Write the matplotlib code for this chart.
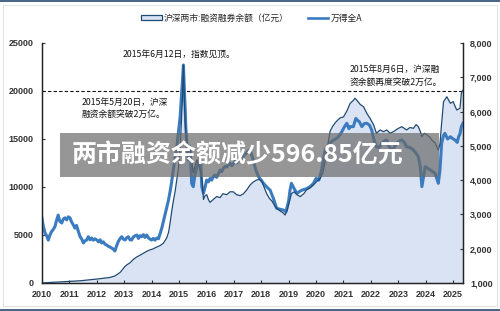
import matplotlib
matplotlib.use("Agg")
import matplotlib.pyplot as plt
from matplotlib.patches import Rectangle, Patch
from matplotlib.lines import Line2D
from matplotlib.ticker import FuncFormatter

plt.rcParams['font.family'] = ['Noto Sans CJK SC', 'DejaVu Sans']

# ---- data ----
margin_years = [2010.00, 2010.30, 2010.66, 2011.02, 2011.39, 2011.75, 2011.90, 2012.12, 2012.48, 2012.66,
                2012.85, 2013.02, 2013.10, 2013.21, 2013.33, 2013.45, 2013.58, 2013.70, 2013.82, 2013.94,
                2014.05, 2014.19, 2014.31, 2014.43, 2014.55, 2014.62, 2014.67, 2014.73, 2014.79, 2014.86,
                2014.92, 2014.98, 2015.04, 2015.08, 2015.12, 2015.16, 2015.19, 2015.22, 2015.26, 2015.30,
                2015.34, 2015.40, 2015.46, 2015.52, 2015.58, 2015.65, 2015.72, 2015.78, 2015.85, 2015.89,
                2015.95, 2016.01, 2016.07, 2016.13, 2016.25, 2016.37, 2016.50, 2016.60, 2016.74, 2016.86,
                2016.98, 2017.10, 2017.23, 2017.35, 2017.47, 2017.59, 2017.70, 2017.81, 2017.92, 2018.02,
                2018.10, 2018.20, 2018.30, 2018.40, 2018.50, 2018.56, 2018.69, 2018.80, 2018.87, 2018.95,
                2019.00, 2019.10, 2019.20, 2019.30, 2019.42, 2019.55, 2019.65, 2019.78, 2019.90, 2020.03,
                2020.15, 2020.25, 2020.30, 2020.38, 2020.45, 2020.51, 2020.60, 2020.70, 2020.80, 2020.88,
                2021.00, 2021.12, 2021.24, 2021.35, 2021.42, 2021.50, 2021.61, 2021.73, 2021.85, 2021.97,
                2022.10, 2022.20, 2022.34, 2022.46, 2022.58, 2022.70, 2022.82, 2023.00, 2023.13, 2023.30,
                2023.43, 2023.55, 2023.65, 2023.73, 2023.80, 2023.86, 2023.95, 2024.04, 2024.15, 2024.22,
                2024.34, 2024.46, 2024.52, 2024.58, 2024.65, 2024.77, 2024.90, 2025.00, 2025.13, 2025.25,
                2025.30, 2025.36]
margin_vals = [10, 60, 120, 170, 230, 330, 380, 450, 580, 730,
               1100, 1700, 1900, 2100, 2450, 2700, 2900, 3100, 3300, 3450,
               3550, 3750, 3900, 4150, 4700, 5300, 6200, 7400, 8500, 9600,
               10800, 12000, 14000, 16500, 19000, 22700, 19500, 17000, 15000, 14500,
               13800, 14200, 12800, 11500, 12200, 12800, 12300, 11600, 10500, 8700,
               9100, 9200, 8700, 8400, 8700, 9000, 8900, 9300, 9200, 9500,
               9500, 9200, 9100, 9300, 9700, 10200, 10500, 10700, 10800, 10600,
               10000, 9300, 8800, 8500, 8000, 7800, 7500, 7300, 7080, 7600,
               8200, 9300, 9500, 9200, 9000, 9300, 9700, 9900, 10200, 10600,
               10900, 11500, 12200, 13500, 14800, 15800, 16300, 16700, 17000, 17200,
               17300, 17900, 18700, 19000, 19240, 19000, 18600, 18370, 17680, 17150,
               16460, 15600, 15940, 15760, 15940, 15600, 15760, 16110, 16280, 15940,
               16200, 16110, 16500, 16280, 15800, 15240, 15600, 15420, 15200, 14900,
               14600, 13850, 14500, 16640, 18890, 19400, 18720, 18890, 18020, 18200,
               19760, 20100]

winda_years = [2010.00, 2010.05, 2010.11, 2010.17, 2010.23, 2010.29, 2010.35, 2010.41, 2010.47, 2010.53,
               2010.59, 2010.65, 2010.72, 2010.78, 2010.84, 2010.90, 2010.96, 2011.02, 2011.08, 2011.14,
               2011.20, 2011.26, 2011.32, 2011.39, 2011.45, 2011.51, 2011.57, 2011.63, 2011.69, 2011.75,
               2011.81, 2011.87, 2011.93, 2012.00, 2012.06, 2012.12, 2012.18, 2012.24, 2012.30, 2012.36,
               2012.42, 2012.48, 2012.54, 2012.60, 2012.66, 2012.72, 2012.78, 2012.85, 2012.91, 2012.97,
               2013.03, 2013.09, 2013.15, 2013.21, 2013.27, 2013.33, 2013.40, 2013.46, 2013.52, 2013.58,
               2013.64, 2013.70, 2013.76, 2013.82, 2013.88, 2013.94, 2014.00, 2014.06, 2014.12, 2014.19,
               2014.25, 2014.31, 2014.37, 2014.43, 2014.49, 2014.55, 2014.61, 2014.67, 2014.73, 2014.79,
               2014.85, 2014.92, 2014.98, 2015.04, 2015.10, 2015.16, 2015.19, 2015.22, 2015.25, 2015.28,
               2015.31, 2015.34, 2015.37, 2015.40, 2015.43, 2015.46, 2015.49, 2015.52, 2015.58, 2015.65,
               2015.71, 2015.77, 2015.80, 2015.83, 2015.89, 2015.95, 2016.01, 2016.07, 2016.13, 2016.19,
               2016.25, 2016.31, 2016.37, 2016.44, 2016.50, 2016.56, 2016.62, 2016.68, 2016.74, 2016.80,
               2016.86, 2016.92, 2016.98, 2017.04, 2017.10, 2017.17, 2017.23, 2017.29, 2017.35, 2017.41,
               2017.47, 2017.53, 2017.59, 2017.70, 2017.80, 2017.90, 2018.00, 2018.08, 2018.20, 2018.32,
               2018.45, 2018.56, 2018.69, 2018.80, 2018.90, 2019.00, 2019.05, 2019.10, 2019.20, 2019.30,
               2019.42, 2019.50, 2019.65, 2019.78, 2019.90, 2020.00, 2020.10, 2020.20, 2020.33, 2020.42,
               2020.50, 2020.60, 2020.75, 2020.85, 2020.94, 2021.03, 2021.12, 2021.20, 2021.24, 2021.36,
               2021.45, 2021.50, 2021.58, 2021.67, 2021.76, 2021.85, 2021.95, 2022.03, 2022.10, 2022.20,
               2022.30, 2022.40, 2022.50, 2022.58, 2022.65, 2022.76, 2022.85, 2022.94, 2023.05, 2023.13,
               2023.22, 2023.30, 2023.43, 2023.55, 2023.65, 2023.73, 2023.80, 2023.86, 2023.92, 2023.98,
               2024.07, 2024.16, 2024.25, 2024.34, 2024.40, 2024.46, 2024.52, 2024.58, 2024.65, 2024.70,
               2024.80, 2024.90, 2025.00, 2025.07, 2025.15, 2025.20, 2025.25, 2025.30, 2025.36]
winda_vals = [2890, 2650, 2460, 2380, 2250, 2400, 2500, 2560, 2640, 2820,
              2980, 2800, 2750, 2870, 2900, 2840, 2930, 2900, 2780, 2700,
              2600, 2680, 2520, 2350, 2280, 2167, 2230, 2254, 2350, 2260,
              2313, 2250, 2290, 2254, 2200, 2260, 2167, 2200, 2130, 2108,
              2070, 2050, 2021, 1990, 1933, 2080, 2205, 2300, 2350, 2280,
              2254, 2320, 2350, 2260, 2254, 2340, 2380, 2400, 2300, 2380,
              2350, 2410, 2330, 2400, 2320, 2280, 2254, 2300, 2250, 2313,
              2290, 2450, 2600, 2800, 3000, 3200, 3400, 3650, 3950, 4300,
              4600, 4975, 5400, 5850, 6630, 7359, 6700, 6143, 5500, 5171,
              4800, 4588, 5000, 4975, 4500, 3908, 3850, 3809, 4150, 4392,
              4550, 4684, 4400, 3809, 3617, 3800, 4004, 3950, 4050, 4000,
              4100, 4150, 4080, 4200, 4296, 4250, 4350, 4400, 4380, 4450,
              4492, 4420, 4480, 4550, 4500, 4560, 4588, 4650, 4700, 4750,
              4800, 4850, 4880, 4600, 4300, 4100, 4000, 3908, 3800, 3712,
              3450, 3180, 3150, 3130, 3080, 3400, 3712, 3908, 3750, 3617,
              3680, 3712, 3750, 3809, 3900, 4054, 4000, 4296, 4880, 4980,
              5075, 5150, 5220, 5300, 5413, 5550, 5658, 5500, 5560, 5560,
              5800, 5755, 5700, 5560, 5650, 5660, 5600, 5463, 5200, 4975,
              4950, 5075, 5150, 5170, 5000, 4880, 4950, 5075, 5150, 5170,
              5100, 4975, 4950, 4880, 4780, 4684, 4400, 3809, 4100, 4392,
              4350, 4296, 4250, 4200, 4050, 3908, 4300, 5075, 5300, 5366,
              5200, 5267, 5200, 5170, 5100, 5267, 5350, 5560, 5660]

xtick_years = list(range(2010, 2026))
left_ticks = [0, 5000, 10000, 15000, 20000, 25000]
right_ticks = [1000, 2000, 3000, 4000, 5000, 6000, 7000, 8000]
threshold = 20000

legend_labels = ["沪深两市:融资融券余额（亿元）", "万得全A"]
ann_peak = "2015年6月12日，指数见顶。"
ann_break1 = "2015年5月20日，沪深\n融资余额突破2万亿。"
ann_break2 = "2015年8月6日，沪深融\n资余额再度突破2万亿。"
banner_text = "两市融资余额减少596.85亿元"

# ---- style ----
FILL = '#dae3f3'
DARK = '#1f4a72'
BLUE = '#3b7bbf'
W, H = 500, 311

fig = plt.figure(figsize=(5, 3.11), dpi=100)
fig.patch.set_facecolor('white')
ax = fig.add_axes([42 / W, 1 - 283 / H, (463 - 42) / W, (283 - 43) / H])
ax2 = ax.twinx()

ax.fill_between(margin_years, margin_vals, 0, color=FILL, zorder=1, linewidth=0)
ax.axhline(threshold, color='#111111', lw=0.8, ls=(0, (3, 2)), zorder=2)

ax2.plot(winda_years, winda_vals, color=BLUE, lw=2.2, zorder=2, solid_joinstyle='round')
ax2.plot(margin_years, margin_vals, color=DARK, lw=0.9, zorder=3, transform=ax.transData)

ax.set_xlim(2010, 2025.36)
ax.set_ylim(0, 25000)
ax2.set_ylim(1000, 8000)

ax.set_xticks(xtick_years)
ax.set_xticklabels([str(y) for y in xtick_years])
ax.set_yticks(left_ticks)
ax2.set_yticks(right_ticks)
ax2.yaxis.set_major_formatter(FuncFormatter(lambda v, p: f"{int(v):,}"))

for lab in ax.get_xticklabels() + ax.get_yticklabels() + ax2.get_yticklabels():
    lab.set_fontfamily('Liberation Sans')
    lab.set_fontsize(6.5)
    lab.set_fontweight('bold')
    lab.set_color('#333333')

ax.tick_params(axis='x', direction='in', length=2.5, pad=5, color='#333333')
ax.tick_params(axis='y', direction='in', length=2.5, pad=6, color='#333333')
ax2.tick_params(axis='y', direction='in', length=2.5, pad=5, color='#333333')

for a in (ax, ax2):
    a.spines['top'].set_visible(False)
    for s in ('left', 'right', 'bottom'):
        a.spines[s].set_color('#222222')
        a.spines[s].set_linewidth(0.9)

# annotations (figure pixel positions)
def fx(px):
    return px / W

def fy(py):
    return 1 - py / H

txt_kw = dict(fontsize=6.3, color='#111111', transform=fig.transFigure,
              family=['Noto Sans CJK SC', 'DejaVu Sans'], linespacing=1.5)
fig.text(fx(123), fy(55), ann_peak, va='center', ha='left', **txt_kw)
fig.text(fx(82), fy(108.5), ann_break1, va='center', ha='left', **txt_kw)
fig.text(fx(350), fy(76), ann_break2, va='center', ha='left', **txt_kw)

# legend
handles = [Patch(facecolor=FILL, edgecolor=DARK, linewidth=0.9),
           Line2D([0], [0], color=BLUE, lw=1.9)]
leg = fig.legend(handles, legend_labels, loc='center', bbox_to_anchor=(fx(252), fy(18)),
                 ncol=2, frameon=False, fontsize=6.3, handlelength=2.3, handleheight=0.6,
                 handletextpad=0.3, columnspacing=2.2)
for t in leg.get_texts():
    t.set_color('#222222')

# banner overlay
fig.patches.append(Rectangle((fx(60), fy(177)), (439 - 60) / W, (177 - 133) / H,
                             transform=fig.transFigure, facecolor='#6a6a6a', alpha=0.7,
                             edgecolor='none', zorder=10))
fig.text(fx(237.5), fy(155.5), banner_text, ha='center', va='center', color='white',
         fontsize=18, fontweight='bold', family=['Noto Sans CJK SC', 'DejaVu Sans'],
         zorder=11)

# outer frame
fig.patches.append(Rectangle((fx(3), fy(306)), (497 - 3) / W, (306 - 5) / H,
                             transform=fig.transFigure, facecolor='none',
                             edgecolor='#dddddd', lw=0.6, zorder=0))
fig.patches.append(Rectangle((0, fy(2)), 1, 2 / H, transform=fig.transFigure,
                             facecolor='#4a6786', edgecolor='none', zorder=12))
fig.patches.append(Rectangle((0, 0), 1, 2.5 / H, transform=fig.transFigure,
                             facecolor='#4a6786', edgecolor='none', zorder=12))

fig.savefig('out.png', dpi=100)
